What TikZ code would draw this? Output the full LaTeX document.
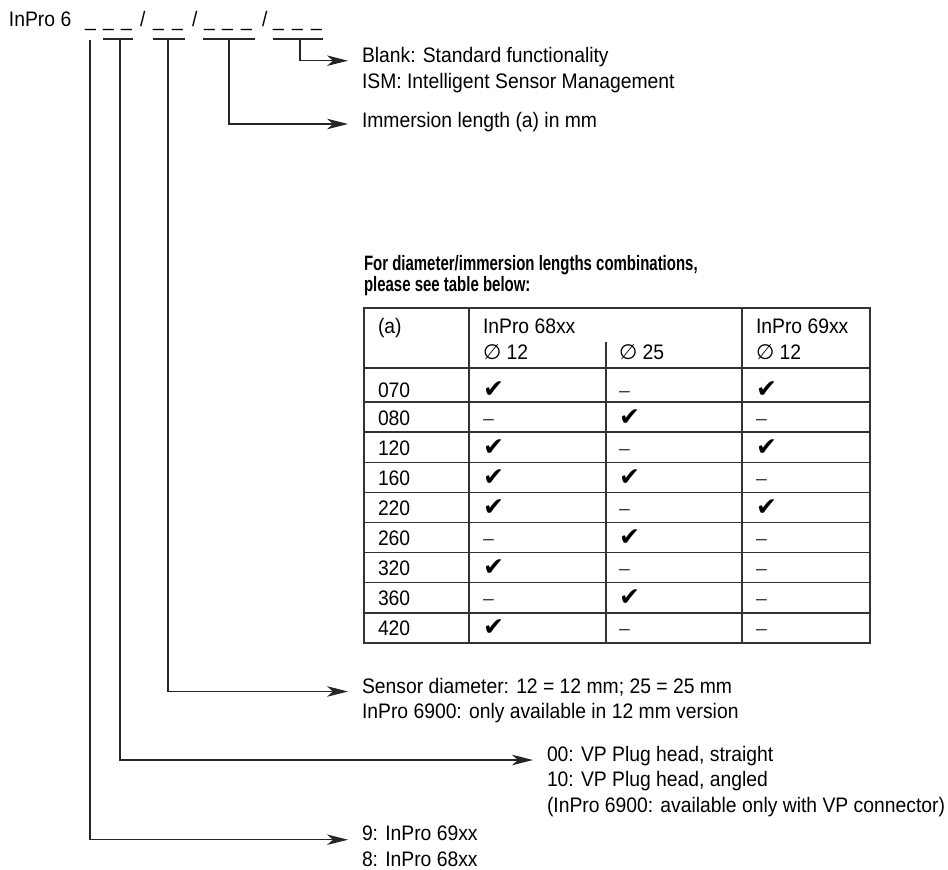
\documentclass[tikz,border=0pt]{standalone}
\usepackage{fontspec}
\setmainfont{Liberation Sans}[FakeStretch=0.92]
\newfontfamily\symfont{DejaVu Sans}
\newfontfamily\headfont{Liberation Sans Bold}[FakeStretch=0.72]
\usetikzlibrary{arrows.meta,calc}
\tikzset{
 txt/.style={inner sep=0pt,outer sep=0pt,anchor=base west,font=\fontsize{21}{25.5}\selectfont},
 hd/.style={txt,font=\headfont\fontsize{20.8}{24}\selectfont},
 ln/.style={line width=1.2pt,draw=black!85},
 arr/.style={ln,-{Stealth[length=21pt,width=10.5pt,inset=6pt]}},
 gridln/.style={line width=1.3pt,draw=black!80},
}
\newcommand{\mycheck}{{\symfont\fontsize{25}{25}\selectfont ✔}}
\newcommand{\mydash}{{\color{black!75}–}}
\newcommand{\mydia}{{\symfont ∅}}
\begin{document}
\begin{tikzpicture}[x=1pt,y=-1pt]
\useasboundingbox (0,0) rectangle (948,870);
% code line
\node[txt] (inpro) at (9,26.7) {InPro 6};
\foreach \x/\ch [count=\i] in {85/\_,103/\_,121/\_,140/\slash,153/\_,172/\_,192/\slash,204/\_,222/\_,241/\_,262/\slash,273/\_,292/\_,311/\_}
  \node[txt] (k\i) at (\x,26.7) {\ch};
% second-row markers
\draw[ln] (103,39) -- (133,39);
\draw[ln] (153,39) -- (185,39);
\draw[ln] (203,39) -- (255,39);
\draw[ln] (273,39) -- (323,39);
\coordinate (u1) at (90,40);
\coordinate (u2) at (120,39);
\coordinate (u3) at (168,39);
\coordinate (u4) at (229,39);
\coordinate (u5) at (300,39);
% texts
\node[txt] (blank1) at (362,62.7) {Blank: Standard functionality};
\node[txt] (blank2) at (362,88.3) {ISM: Intelligent Sensor Management};
\node[txt] (imm) at (362,127) {Immersion length (a) in mm};
\node[hd] (head1) at (364,270.7) {For diameter/immersion lengths combinations,};
\node[hd] (head2) at (364,291) {please see table below:};
\node[txt] (sensor1) at (362,693) {Sensor diameter: 12 = 12 mm; 25 = 25 mm};
\node[txt] (sensor2) at (362,718.3) {InPro 6900: only available in 12 mm version};
\node[txt] (plug1) at (547,761.7) {00: VP Plug head, straight};
\node[txt] (plug2) at (547,786.7) {10: VP Plug head, angled};
\node[txt] (plug3) at (547,812) {(InPro 6900: available only with VP connector)};
\node[txt] (type1) at (362,840.7) {9: InPro 69xx};
\node[txt] (type2) at (362,866) {8: InPro 68xx};
% connectors
\draw[arr] (u5) |- ([xshift=-14pt,yshift=2pt]blank1.base west);
\draw[arr] (u4) |- ([xshift=-14pt,yshift=3pt]imm.base west);
\draw[arr] (u3) |- ([xshift=-14pt,yshift=1.5pt]sensor1.base west);
\draw[arr] (u2) |- ([xshift=-14pt,yshift=1.7pt]plug1.base west);
\draw[arr] (u1) |- ([xshift=-14pt,yshift=1pt]type1.base west);
% table grid
\draw[gridln] (364,308) rectangle (870,643);
\draw[gridln] (469,308) -- (469,643);
\draw[gridln] (742,308) -- (742,643);
\draw[gridln] (606,342) -- (606,643);
\draw[gridln] (364,368) -- (870,368);
\foreach \k in {0,...,7} \draw[gridln] (364,{402+30.125*\k}) -- (870,{402+30.125*\k});
% header
\node[txt] (ha) at (378,333.3) {(a)};
\node[txt] (h68) at (483,333.3) {InPro 68xx};
\node[txt] (h69) at (756,333.3) {InPro 69xx};
\node[txt] (d1) at (483,359) {\mydia\ 12};
\node[txt] (d2) at (619,359) {\mydia\ 25};
\node[txt] (d3) at (756,359) {\mydia\ 12};
% rows
\foreach \yb/\lab/\a/\b/\c [count=\i] in {
 397/070/\mycheck/\mydash/\mycheck,
 425/080/\mydash/\mycheck/\mydash,
 455.125/120/\mycheck/\mydash/\mycheck,
 485.25/160/\mycheck/\mycheck/\mydash,
 515.375/220/\mycheck/\mydash/\mycheck,
 545.5/260/\mydash/\mycheck/\mydash,
 575.625/320/\mycheck/\mydash/\mydash,
 605.75/360/\mydash/\mycheck/\mydash,
 635.875/420/\mycheck/\mydash/\mydash}{
 \node[txt] (r\i-0) at (378,\yb) {\lab};
 \node[txt] (r\i-1) at (483,\yb) {\a};
 \node[txt] (r\i-2) at (619,\yb) {\b};
 \node[txt] (r\i-3) at (756,\yb) {\c};
}
\end{tikzpicture}
\end{document}
